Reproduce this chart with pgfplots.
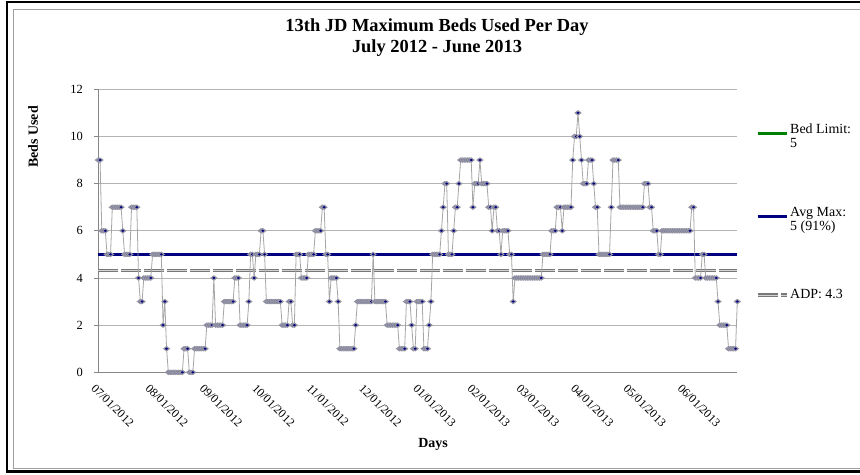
\documentclass[border=0pt]{standalone}
\usepackage{fontspec}
\setmainfont{Liberation Serif}
\usepackage{pgfplots}
\usepackage{pgfplotstable}
\pgfplotsset{compat=1.18}

\definecolor{navyline}{RGB}{0,0,128}
\definecolor{bedgreen}{RGB}{0,128,0}
\definecolor{datagray}{RGB}{165,165,165}
\definecolor{markgray}{RGB}{150,150,165}
\definecolor{gridgray}{RGB}{180,180,180}
\definecolor{axisgray}{RGB}{134,134,134}
\definecolor{adpgray}{RGB}{120,120,120}

% maximum beds used, one row per day from 07/01/2012
\pgfplotstableread[row sep=\\]{
beds\\
9\\9\\6\\6\\6\\5\\5\\5\\7\\7\\7\\7\\7\\7\\
6\\5\\5\\5\\5\\7\\7\\7\\7\\4\\3\\3\\4\\4\\4\\4\\4\\
5\\5\\5\\5\\5\\5\\2\\3\\1\\0\\0\\0\\0\\0\\0\\0\\0\\0\\1\\1\\1\\0\\0\\0\\1\\1\\1\\1\\1\\1\\1\\
2\\2\\2\\2\\4\\2\\2\\2\\2\\2\\3\\3\\3\\3\\3\\3\\4\\4\\4\\2\\2\\2\\2\\2\\3\\5\\5\\4\\5\\5\\
5\\6\\6\\5\\3\\3\\3\\3\\3\\3\\3\\3\\3\\2\\2\\2\\2\\3\\3\\2\\2\\5\\5\\5\\4\\4\\4\\4\\5\\5\\5\\
5\\6\\6\\6\\6\\7\\7\\5\\5\\3\\4\\4\\4\\4\\3\\1\\1\\1\\1\\1\\1\\1\\1\\1\\2\\3\\3\\3\\3\\3\\
3\\3\\3\\3\\5\\3\\3\\3\\3\\3\\3\\3\\2\\2\\2\\2\\2\\2\\2\\1\\1\\1\\1\\3\\3\\3\\2\\1\\1\\3\\3\\
3\\3\\1\\1\\1\\2\\3\\5\\5\\5\\5\\5\\6\\7\\8\\8\\5\\5\\5\\6\\7\\7\\8\\9\\9\\9\\9\\9\\9\\9\\7\\
8\\8\\8\\9\\8\\8\\8\\8\\7\\7\\6\\7\\7\\6\\6\\5\\6\\6\\6\\6\\5\\5\\3\\4\\4\\4\\4\\4\\
4\\4\\4\\4\\4\\4\\4\\4\\4\\4\\4\\5\\5\\5\\5\\5\\6\\6\\6\\7\\7\\7\\6\\7\\7\\7\\7\\7\\9\\10\\10\\
11\\10\\9\\8\\8\\8\\9\\9\\9\\8\\7\\7\\5\\5\\5\\5\\5\\5\\5\\7\\9\\9\\9\\9\\7\\7\\7\\7\\7\\7\\
7\\7\\7\\7\\7\\7\\7\\7\\8\\8\\8\\7\\7\\6\\6\\6\\5\\5\\6\\6\\6\\6\\6\\6\\6\\6\\6\\6\\6\\6\\6\\
6\\6\\6\\6\\7\\7\\4\\4\\4\\4\\5\\5\\4\\4\\4\\4\\4\\4\\4\\3\\2\\2\\2\\2\\2\\1\\1\\1\\1\\1\\3\\
}\maxbeds

\begin{document}
\begin{tikzpicture}
\useasboundingbox (0,0) rectangle (860bp,475bp);
\fill[white] (0,0) rectangle (860bp,475bp);
% outer frames
\draw[black, line width=2.4bp] (880bp,472.8bp) -- (7.2bp,472.8bp) -- (7.2bp,3.5bp) -- (880bp,3.5bp);
\draw[axisgray!80, line width=1.3bp] (880bp,465.5bp) -- (13.7bp,465.5bp) -- (13.7bp,6.8bp) -- (880bp,6.8bp);

\begin{axis}[
    at={(98.3bp,102.7bp)}, anchor=south west,
    scale only axis, width=639bp, height=283bp,
    xmin=0, xmax=365,
    ymin=0, ymax=12,
    ytick={0,2,4,6,8,10,12},
    xtick={0,31,62,92,123,153,184,215,243,274,304,335},
    xticklabels={07/01/2012,08/01/2012,09/01/2012,10/01/2012,11/01/2012,12/01/2012,
                 01/01/2013,02/01/2013,03/01/2013,04/01/2013,05/01/2013,06/01/2013},
    axis x line*=bottom, axis y line*=left,
    axis line style={axisgray, line width=0.9bp, -},
    ymajorgrids=true,
    grid style={gridgray, line width=0.9bp},
    tick align=outside,
    ytick style={axisgray, line width=0.9bp},
    major tick length=4bp,
    xtick style={draw=none},
    /pgf/number format/assume math mode=true,
    yticklabel style={font=\fontsize{12.5}{14}\selectfont, xshift=-8bp},
    xticklabel style={font=\fontsize{12}{14}\selectfont, rotate=-45, anchor=north west, xshift=0bp, yshift=-3bp},
    clip=false,
    legend cell align=left,
    legend style={at={(1.029,0.884)}, anchor=north west, draw=none, fill=none,
        inner sep=0pt, row sep=60bp, font=\fontsize{14}{13.5}\selectfont},
    legend image code/.code={\draw[#1] (0bp,0bp) -- (29bp,0bp);},
]

\addplot[bedgreen, line width=3bp] coordinates {(0,5) (365,5)};
\addlegendentry{\begin{tabular}{@{}l@{}}Bed Limit:\\5\end{tabular}}

\addplot[navyline, line width=3.2bp] coordinates {(0,5) (365,5)};
\addlegendentry{\begin{tabular}{@{}l@{}}Avg Max:\\5 (91\%)\end{tabular}}

\addplot[adpgray, line width=1.1bp, double=gray!35, double distance=0.9bp,
    dash pattern=on 20bp off 3bp] coordinates {(0,4.3) (365,4.3)};
\addlegendentry{ADP: 4.3}

\addplot[datagray, line width=0.8bp, mark=diamond*, mark size=2.8bp,
    mark options={rotate=90, fill=navyline, draw=markgray, line width=1.1bp},
    forget plot] table[x expr=\coordindex, y=beds] {\maxbeds};

\end{axis}

\node[font=\fontsize{18.5}{21}\selectfont\bfseries, align=center] at (437bp,437.5bp)
    {13th JD Maximum Beds Used Per Day\\July 2012 - June 2013};
\node[font=\fontsize{14}{16}\selectfont\bfseries, rotate=90] at (33bp,338bp) {Beds Used};
\node[font=\fontsize{14}{16}\selectfont\bfseries] at (433bp,31bp) {Days};
\end{tikzpicture}
\end{document}
